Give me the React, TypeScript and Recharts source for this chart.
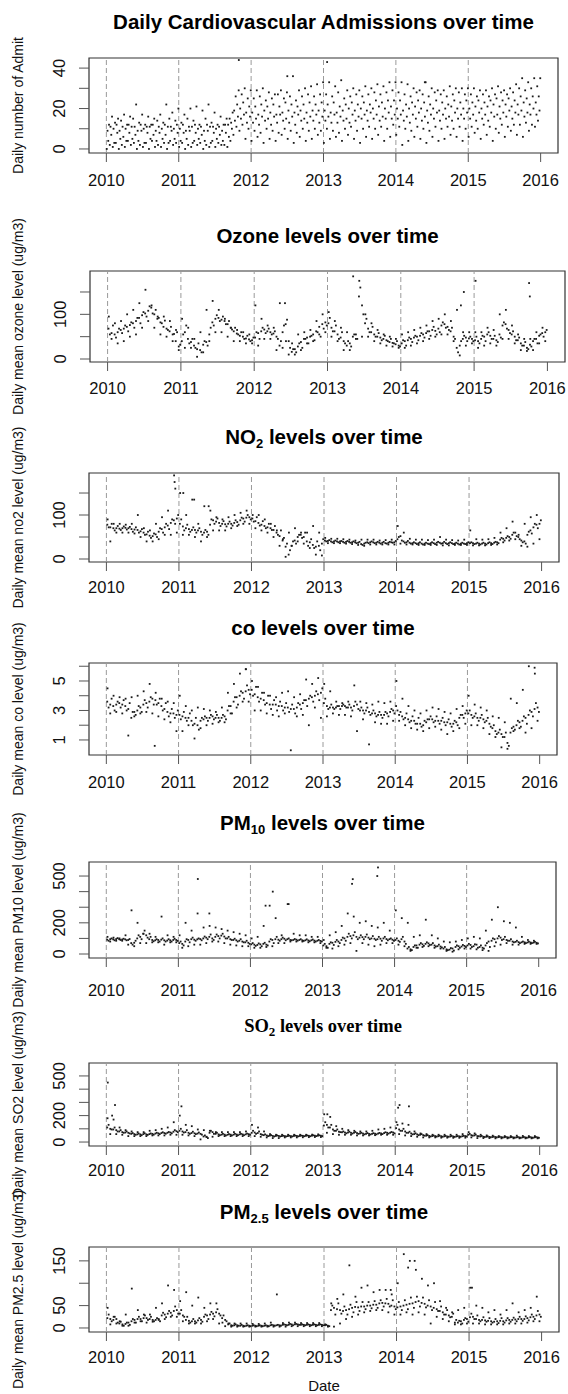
import React from "react";
import {
  ScatterChart,
  Scatter,
  XAxis,
  YAxis,
  ReferenceLine,
  ReferenceArea,
} from "recharts";

const W = 568;
const SANS = '"Liberation Sans", Arial, sans-serif';
const SERIF = '"Liberation Serif", "Times New Roman", serif';

const YEARS = [2010, 2011, 2012, 2013, 2014, 2015, 2016];
const DASH_YEARS = [2010, 2011, 2012, 2013, 2014, 2015];
const X_DOMAIN: [number, number] = [2009.76, 2016.24];

// Daily cardiovascular admissions: eight readings per month across the cloud (low -> high)
const admitL1 = [
  0, 1, 0, 1, 2, 0, 1, 0, 1, 1, 0, 2,
  1, 0, 1, 2, 0, 1, 1, 2, 1, 7, 9, 5,
  4, 6, 3, 5, 4, 7, 5, 3, 6, 4, 5, 7,
  3, 5, 6, 4, 7, 5, 3, 6, 5, 7, 4, 6,
  7, 2, 4, 6, 5, 3, 6, 4, 5, 7, 6, 4,
  6, 8, 5, 7, 4, 8, 6, 9, 7, 6, 9, 11,
];
const admitL2 = [
  2, 3, 2, 4, 3, 2, 3, 4, 2, 3, 4, 3,
  3, 2, 4, 3, 2, 4, 3, 2, 4, 11, 12, 10,
  9, 8, 10, 9, 8, 10, 9, 8, 10, 9, 10, 9,
  10, 9, 8, 10, 11, 9, 10, 11, 10, 11, 10, 12,
  11, 10, 9, 11, 10, 9, 11, 10, 11, 10, 11, 10,
  11, 10, 12, 11, 10, 12, 11, 12, 12, 13, 12, 14,
];
const admitL3 = [
  4, 3, 5, 4, 5, 4, 3, 5, 4, 5, 3, 5,
  4, 5, 3, 5, 4, 3, 5, 4, 6, 14, 15, 13,
  13, 12, 14, 12, 13, 14, 13, 12, 14, 13, 14, 13,
  14, 13, 13, 14, 13, 14, 15, 14, 15, 14, 15, 15,
  15, 14, 13, 15, 14, 13, 15, 14, 15, 14, 15, 15,
  15, 14, 15, 14, 16, 15, 16, 15, 17, 16, 17, 17,
];
const admitL4 = [
  7, 8, 6, 8, 7, 9, 8, 7, 8, 7, 9, 8,
  8, 9, 8, 7, 9, 8, 7, 8, 10, 16, 17, 16,
  15, 16, 15, 16, 17, 15, 16, 17, 15, 16, 17, 16,
  16, 17, 16, 15, 17, 16, 17, 18, 17, 16, 18, 17,
  17, 16, 17, 18, 16, 17, 18, 17, 16, 18, 17, 18,
  17, 18, 17, 18, 17, 18, 19, 18, 19, 18, 20, 19,
];
const admitL5 = [
  9, 10, 9, 10, 11, 9, 10, 11, 9, 10, 11, 10,
  10, 9, 11, 10, 9, 11, 10, 9, 12, 19, 20, 18,
  18, 17, 19, 18, 17, 18, 19, 18, 19, 18, 19, 19,
  19, 18, 18, 19, 20, 19, 20, 19, 20, 21, 20, 21,
  20, 19, 20, 21, 20, 19, 20, 19, 20, 21, 20, 20,
  20, 21, 20, 21, 22, 21, 22, 21, 22, 23, 22, 23,
];
const admitL6 = [
  11, 12, 11, 12, 11, 12, 11, 12, 11, 12, 11, 12,
  12, 11, 12, 11, 12, 11, 11, 12, 13, 22, 23, 21,
  21, 22, 21, 22, 21, 23, 22, 21, 22, 23, 22, 23,
  22, 23, 21, 22, 23, 22, 23, 22, 24, 23, 24, 24,
  24, 22, 23, 24, 23, 22, 24, 23, 22, 24, 23, 24,
  23, 24, 23, 24, 25, 24, 25, 24, 26, 25, 26, 26,
];
const admitL7 = [
  12, 13, 14, 12, 15, 13, 12, 12, 14, 13, 15, 14,
  13, 15, 14, 12, 15, 13, 12, 12, 15, 26, 27, 25,
  25, 26, 24, 25, 27, 25, 26, 24, 26, 27, 26, 27,
  27, 26, 28, 25, 26, 27, 26, 27, 28, 27, 28, 29,
  28, 27, 26, 28, 27, 26, 28, 27, 26, 27, 28, 27,
  27, 26, 27, 26, 27, 28, 27, 28, 30, 29, 30, 31,
];
const admitL8 = [
  16, 15, 17, 16, 22, 17, 16, 15, 17, 22, 18, 20,
  17, 20, 21, 19, 22, 18, 16, 15, 18, 29, 30, 29,
  29, 30, 28, 27, 29, 28, 36, 29, 30, 31, 32, 33,
  33, 31, 34, 29, 30, 29, 31, 30, 32, 31, 33, 33,
  33, 32, 30, 29, 33, 30, 29, 29, 31, 30, 30, 30,
  30, 29, 29, 30, 31, 29, 30, 32, 35, 33, 35, 35,
];
const admitSpikes = [[2011.83, 44], [2013.05, 43], [2012.5, 36], [2014.4, 33]];

// Ozone: two half-monthly readings of the band, monthly high / low, isolated peaks
const ozoneMid = [
  68, 58, 55, 60, 65, 68, 72, 76, 80, 85, 92, 98, 102, 108, 115, 100, 90, 82, 72, 68, 62, 55, 40, 28,
  40, 60, 45, 38, 30, 22, 20, 32, 38, 55, 82, 90, 92, 88, 85, 78, 70, 62, 57, 52, 50, 46, 44, 42,
  48, 58, 62, 66, 62, 60, 57, 50, 30, 60, 78, 40, 16, 22, 28, 38, 45, 48, 50, 55, 62, 72, 78, 82,
  80, 70, 62, 55, 48, 40, 30, 35, 50, 55, 140, 120, 80, 68, 60, 55, 50, 48, 45, 42, 38, 36, 33, 30,
  35, 40, 42, 45, 48, 50, 52, 55, 58, 62, 65, 63, 68, 75, 78, 72, 62, 50, 25, 30, 45, 48, 46, 45,
  42, 40, 45, 50, 55, 52, 45, 42, 55, 75, 78, 65, 55, 50, 42, 35, 30, 25, 32, 40, 45, 52, 58, 60,
];
const ozoneMid2 = [
  55, 75, 48, 68, 58, 75, 62, 82, 70, 92, 80, 105, 95, 118, 102, 110, 92, 80, 86, 65, 72, 56, 60, 32,
  55, 75, 35, 45, 25, 35, 15, 40, 30, 70, 75, 98, 85, 95, 78, 85, 66, 70, 55, 60, 45, 52, 40, 48,
  60, 45, 70, 58, 68, 55, 62, 45, 40, 75, 88, 25, 22, 15, 35, 25, 45, 35, 52, 42, 60, 50, 68, 75,
  92, 62, 75, 45, 60, 35, 40, 28, 55, 45, 160, 100, 90, 60, 72, 50, 58, 42, 52, 40, 45, 35, 40, 28,
  42, 30, 48, 38, 52, 42, 58, 48, 62, 52, 72, 55, 60, 82, 70, 65, 70, 45, 15, 40, 52, 40, 50, 40,
  50, 35, 52, 40, 60, 45, 52, 38, 48, 82, 68, 58, 62, 42, 48, 30, 38, 22, 28, 45, 35, 55, 50, 65,
];
const ozoneHi = [
  95, 80, 85, 100, 110, 125, 155, 120, 95, 95, 85, 65,
  90, 70, 45, 60, 110, 130, 110, 90, 70, 65, 60, 55,
  120, 90, 75, 70, 125, 40, 35, 55, 60, 65, 85, 100,
  105, 85, 70, 60, 185, 175, 100, 80, 65, 55, 50, 45,
  55, 60, 65, 70, 75, 85, 90, 100, 85, 110, 60, 60,
  60, 60, 70, 65, 100, 110, 75, 55, 45, 45, 60, 70,
];
const ozoneLo = [
  45, 35, 40, 50, 55, 70, 85, 70, 55, 50, 40, 20,
  25, 25, 5, 15, 40, 60, 60, 50, 40, 40, 35, 35,
  30, 45, 45, 20, 25, 10, 10, 20, 35, 40, 55, 60,
  50, 40, 20, 20, 45, 50, 50, 40, 35, 30, 28, 25,
  25, 30, 35, 40, 45, 50, 55, 55, 40, 8, 30, 35,
  25, 30, 35, 30, 45, 45, 35, 20, 18, 20, 35, 40,
];
const ozoneSpikes = [[2012.42, 125], [2014.86, 150], [2015.02, 175], [2015.75, 170], [2014.82, 120], [2015.76, 140]];

// NO2
const no2Mid = [
  78, 72, 70, 70, 69, 70, 71, 70, 68, 67, 66, 63, 60, 56, 53, 52, 56, 62, 68, 72, 76, 82, 88, 92,
  80, 74, 70, 68, 66, 66, 65, 62, 60, 62, 78, 88, 85, 82, 80, 79, 80, 80, 82, 84, 88, 92, 94, 95,
  92, 86, 82, 78, 75, 72, 70, 66, 60, 52, 42, 28, 10, 30, 42, 50, 55, 50, 40, 38, 32, 28, 30, 35,
  42, 41, 40, 40, 40, 40, 39, 39, 39, 38, 38, 37, 34, 35, 38, 38, 38, 37, 37, 37, 36, 37, 38, 38,
  45, 52, 40, 38, 37, 36, 36, 36, 35, 35, 35, 36, 36, 37, 37, 36, 36, 36, 36, 35, 35, 35, 35, 36,
  36, 36, 35, 35, 35, 35, 36, 36, 37, 38, 44, 46, 48, 50, 55, 60, 50, 42, 40, 55, 65, 72, 78, 80,
];
const no2Mid2 = [
  72, 80, 65, 75, 66, 74, 67, 73, 62, 72, 60, 68, 55, 62, 48, 58, 50, 70, 60, 80, 68, 90, 80, 100,
  90, 65, 78, 62, 72, 60, 70, 55, 66, 55, 90, 80, 92, 75, 86, 74, 85, 76, 88, 78, 94, 85, 100, 90,
  85, 95, 76, 86, 70, 80, 66, 75, 55, 65, 48, 35, 20, 40, 35, 55, 48, 60, 30, 45, 25, 40, 20, 45,
  40, 43, 38, 42, 38, 41, 37, 41, 37, 40, 36, 39, 32, 37, 36, 40, 36, 39, 35, 39, 35, 39, 37, 41,
  50, 42, 37, 41, 35, 38, 34, 38, 33, 37, 34, 38, 34, 39, 35, 39, 34, 38, 34, 37, 33, 37, 34, 38,
  38, 34, 37, 33, 37, 33, 38, 34, 39, 36, 48, 42, 52, 46, 60, 52, 45, 38, 35, 62, 58, 80, 70, 88,
];
const no2Hi = [
  90, 80, 80, 78, 80, 100, 70, 65, 80, 95, 110, 190,
  150, 100, 135, 80, 120, 110, 95, 90, 95, 100, 105, 110,
  100, 100, 90, 80, 65, 45, 60, 70, 60, 60, 75, 60,
  48, 46, 46, 45, 44, 42, 44, 44, 44, 42, 43, 44,
  75, 60, 46, 44, 44, 43, 44, 50, 44, 43, 42, 44,
  65, 45, 44, 45, 48, 60, 70, 85, 55, 80, 95, 100,
];
const no2Lo = [
  40, 60, 60, 60, 58, 50, 40, 40, 45, 55, 55, 60,
  55, 55, 50, 40, 50, 65, 65, 65, 70, 75, 80, 80,
  70, 65, 60, 50, 30, 5, 30, 40, 35, 25, 10, 8,
  36, 36, 36, 35, 34, 32, 30, 33, 33, 33, 33, 33,
  35, 33, 33, 32, 32, 32, 32, 31, 31, 32, 32, 32,
  31, 31, 31, 32, 33, 38, 42, 45, 30, 28, 35, 45,
];
const no2Spikes = [[2010.94, 175], [2010.95, 160], [2011.06, 150], [2011.21, 135], [2011.41, 120]];

// CO
const coMid = [
  3.6, 3.4, 3.3, 3.4, 3.5, 3.4, 3.3, 3.1, 2.5, 2.9, 3.0, 3.2, 3.4, 3.5, 3.6, 3.8, 3.7, 3.5, 3.3, 3.1, 2.9, 2.8, 2.8, 2.7,
  2.7, 2.6, 2.5, 2.5, 2.3, 2.1, 2.0, 2.3, 2.4, 2.5, 2.5, 2.6, 2.5, 2.5, 2.5, 2.6, 3.0, 3.3, 3.6, 3.9, 4.0, 4.2, 4.3, 4.4,
  4.4, 4.1, 3.9, 3.8, 3.7, 3.5, 3.4, 3.4, 3.4, 3.3, 3.3, 3.2, 3.2, 3.1, 3.1, 3.2, 3.4, 3.5, 3.7, 3.8, 3.9, 4.0, 4.1, 4.2,
  3.5, 3.3, 3.2, 3.2, 3.2, 3.3, 3.3, 3.3, 3.2, 3.2, 3.3, 3.4, 3.0, 3.0, 3.0, 2.9, 2.8, 2.8, 2.7, 2.7, 2.7, 2.8, 2.9, 3.0,
  3.3, 2.7, 2.6, 2.5, 2.4, 2.3, 2.3, 2.1, 2.1, 2.0, 2.2, 2.4, 2.4, 2.3, 2.3, 2.3, 2.2, 2.2, 2.1, 2.1, 2.2, 2.5, 2.7, 2.8,
  2.8, 2.7, 2.6, 2.5, 2.5, 2.4, 2.3, 2.1, 1.8, 1.6, 1.5, 1.4, 1.2, 0.8, 1.5, 1.9, 2.0, 2.2, 2.3, 2.5, 2.7, 2.9, 3.1, 3.2,
];
const coMid2 = [
  3.2, 3.8, 3.0, 3.6, 3.2, 3.7, 3.0, 3.5, 2.9, 2.7, 3.3, 2.9, 3.7, 3.2, 3.9, 3.4, 3.4, 3.8, 3.0, 3.5, 2.6, 3.1, 2.5, 3.0,
  2.4, 2.9, 2.3, 2.8, 2.0, 2.5, 1.7, 2.5, 2.6, 2.3, 2.7, 2.4, 2.7, 2.3, 2.7, 2.4, 3.3, 2.8, 3.9, 3.4, 4.3, 3.8, 4.7, 4.1,
  4.0, 4.6, 3.6, 4.2, 3.4, 4.0, 3.1, 3.7, 3.0, 3.6, 3.0, 3.5, 2.9, 3.4, 2.8, 3.5, 3.1, 3.7, 3.3, 4.0, 3.6, 4.3, 3.7, 4.5,
  3.8, 3.1, 3.4, 3.1, 3.3, 3.1, 3.4, 3.2, 3.4, 3.0, 3.6, 3.1, 3.2, 2.8, 3.2, 2.7, 3.0, 2.6, 2.9, 2.5, 2.9, 2.6, 3.1, 2.8,
  3.0, 2.9, 2.4, 2.8, 2.2, 2.6, 2.1, 2.5, 1.9, 2.3, 2.4, 2.6, 2.2, 2.6, 2.1, 2.5, 2.0, 2.4, 1.9, 2.3, 2.0, 2.7, 2.5, 3.0,
  3.0, 2.5, 2.8, 2.3, 2.7, 2.2, 2.5, 1.9, 2.0, 1.4, 1.7, 1.2, 1.5, 0.6, 1.8, 1.7, 2.3, 1.9, 2.6, 2.1, 3.0, 2.6, 3.5, 2.9,
];
const coHi = [
  4.5, 4.0, 3.9, 3.8, 3.9, 4.0, 4.3, 4.8, 4.2, 3.8, 3.6, 3.5,
  4.0, 3.3, 3.0, 3.2, 3.1, 3.0, 2.9, 3.2, 4.2, 4.8, 5.5, 5.8,
  5.0, 4.6, 4.2, 4.0, 3.9, 4.2, 4.3, 3.9, 4.1, 5.1, 4.8, 5.2,
  4.8, 4.3, 3.6, 3.5, 3.6, 4.7, 3.6, 3.5, 3.4, 3.6, 3.5, 3.6,
  5.0, 3.8, 3.3, 3.0, 2.8, 3.0, 3.2, 3.1, 2.9, 2.8, 3.1, 3.3,
  4.0, 3.4, 3.2, 3.0, 2.6, 2.5, 2.2, 3.8, 3.5, 4.4, 6.0, 5.5,
];
const coLo = [
  2.8, 2.9, 2.8, 1.3, 2.6, 2.8, 2.9, 2.8, 2.6, 2.4, 2.2, 1.6,
  1.6, 2.0, 1.1, 1.8, 2.0, 2.1, 2.2, 2.2, 2.8, 3.2, 3.6, 3.6,
  3.0, 3.0, 2.8, 2.7, 2.6, 2.8, 0.3, 2.6, 2.7, 2.0, 3.2, 2.5,
  2.6, 2.8, 2.7, 2.7, 2.6, 1.6, 2.4, 0.7, 2.2, 2.1, 2.1, 2.3,
  2.3, 2.0, 1.8, 1.7, 1.6, 1.8, 1.9, 1.7, 1.4, 1.6, 1.8, 2.1,
  2.0, 2.0, 1.8, 1.4, 1.2, 0.5, 0.4, 1.6, 1.8, 1.5, 1.8, 2.3,
];
const coSpikes = [[2010.67, 0.6], [2011.93, 5.8], [2015.93, 5.9]];

// PM10
const pm10Mid = [
  92, 95, 94, 96, 95, 93, 94, 90, 70, 72, 100, 110, 130, 120, 95, 90, 88, 90, 92, 88, 86, 88, 90, 90,
  70, 65, 80, 90, 95, 92, 94, 96, 100, 105, 110, 100, 110, 115, 118, 112, 100, 95, 90, 88, 85, 80, 75, 72,
  62, 60, 58, 62, 65, 60, 80, 90, 95, 92, 95, 98, 95, 90, 90, 92, 90, 88, 88, 87, 88, 86, 85, 84,
  55, 50, 65, 72, 78, 80, 90, 100, 110, 115, 120, 110, 105, 108, 110, 105, 100, 98, 95, 98, 100, 96, 95, 92,
  90, 85, 95, 80, 35, 30, 45, 55, 60, 62, 65, 68, 60, 55, 50, 48, 35, 30, 28, 35, 45, 50, 48, 52,
  55, 58, 50, 60, 45, 40, 55, 80, 85, 95, 100, 105, 95, 90, 85, 80, 78, 76, 75, 75, 74, 74, 73, 72,
];
const pm10Mid2 = [
  85, 100, 88, 102, 90, 98, 88, 96, 60, 85, 120, 95, 150, 105, 110, 82, 95, 80, 100, 80, 95, 80, 98, 84,
  80, 55, 95, 75, 105, 85, 100, 88, 112, 95, 125, 90, 125, 100, 130, 100, 110, 90, 98, 80, 95, 75, 85, 65,
  70, 52, 68, 50, 72, 55, 95, 70, 110, 85, 105, 88, 100, 88, 96, 86, 95, 84, 94, 82, 93, 80, 90, 80,
  65, 40, 75, 58, 90, 70, 105, 85, 130, 100, 140, 95, 120, 95, 125, 95, 115, 90, 110, 85, 110, 88, 100, 85,
  100, 78, 110, 65, 45, 25, 55, 40, 70, 52, 75, 58, 70, 48, 60, 42, 45, 25, 38, 22, 55, 40, 58, 45,
  65, 45, 62, 40, 55, 35, 70, 45, 100, 75, 115, 90, 110, 85, 95, 75, 85, 70, 80, 70, 79, 70, 78, 68,
];
const pm10Hi = [
  110, 105, 100, 120, 280, 200, 130, 130, 110, 240, 120, 110,
  120, 200, 150, 260, 170, 180, 170, 160, 150, 140, 130, 120,
  100, 110, 180, 310, 230, 120, 320, 130, 120, 120, 110, 110,
  90, 120, 140, 180, 260, 240, 200, 210, 180, 170, 200, 150,
  280, 230, 200, 110, 120, 220, 120, 100, 80, 75, 80, 90,
  100, 110, 100, 150, 220, 300, 210, 200, 170, 110, 90, 85,
];
const pm10Lo = [
  80, 85, 85, 60, 50, 70, 70, 75, 75, 60, 75, 75,
  40, 50, 60, 60, 70, 80, 80, 70, 60, 55, 50, 50,
  40, 40, 45, 50, 70, 70, 80, 80, 80, 75, 75, 70,
  40, 35, 50, 60, 70, 20, 70, 60, 50, 60, 70, 70,
  60, 50, 20, 40, 45, 50, 40, 35, 20, 15, 30, 35,
  35, 30, 25, 20, 50, 60, 70, 60, 60, 65, 65, 65,
];
const pm10Spikes = [[2011.27, 481], [2012.31, 400], [2012.53, 320], [2013.41, 450], [2013.42, 480], [2013.76, 500], [2013.77, 555], [2011.43, 260], [2012.21, 310]];

// SO2
const so2Mid = [
  110, 100, 95, 90, 80, 75, 72, 70, 62, 60, 58, 58, 60, 58, 60, 62, 64, 66, 68, 68, 70, 72, 78, 82,
  85, 80, 75, 70, 68, 66, 64, 62, 42, 38, 70, 75, 62, 58, 56, 56, 55, 56, 56, 57, 58, 58, 58, 60,
  70, 72, 68, 60, 52, 50, 48, 46, 46, 46, 45, 45, 45, 45, 46, 46, 46, 47, 47, 47, 48, 48, 48, 48,
  125, 130, 110, 95, 85, 78, 74, 72, 72, 70, 70, 68, 65, 64, 62, 62, 62, 63, 64, 65, 68, 70, 70, 72,
  105, 95, 85, 80, 70, 65, 60, 58, 55, 52, 48, 46, 45, 45, 44, 44, 43, 42, 42, 42, 42, 43, 44, 45,
  55, 52, 50, 45, 42, 40, 40, 39, 38, 38, 37, 37, 36, 36, 36, 35, 35, 35, 35, 35, 35, 35, 35, 35,
];
const so2Mid2 = [
  130, 95, 110, 80, 90, 70, 80, 65, 68, 55, 64, 52, 66, 54, 65, 56, 70, 60, 74, 63, 76, 66, 90, 75,
  100, 72, 90, 62, 78, 60, 72, 56, 50, 30, 85, 62, 70, 52, 62, 50, 60, 50, 62, 52, 62, 52, 64, 55,
  85, 62, 80, 55, 58, 45, 52, 42, 50, 42, 48, 42, 48, 42, 49, 43, 49, 44, 50, 44, 51, 45, 51, 45,
  150, 110, 130, 85, 95, 75, 80, 66, 78, 64, 76, 62, 70, 58, 68, 57, 67, 58, 69, 60, 74, 64, 76, 66,
  130, 85, 100, 70, 78, 58, 66, 52, 60, 48, 52, 42, 49, 41, 48, 40, 46, 40, 46, 39, 45, 40, 47, 42,
  62, 48, 56, 44, 46, 38, 43, 36, 41, 35, 40, 34, 39, 33, 38, 33, 38, 32, 38, 32, 38, 32, 38, 32,
];
const so2Hi = [
  180, 170, 110, 90, 80, 75, 75, 85, 90, 100, 110, 150,
  200, 130, 120, 95, 90, 85, 75, 75, 75, 75, 75, 80,
  130, 110, 80, 60, 55, 55, 55, 55, 55, 55, 56, 58,
  210, 190, 120, 100, 90, 85, 80, 80, 85, 95, 100, 110,
  150, 140, 130, 80, 65, 60, 55, 55, 55, 55, 55, 60,
  75, 65, 55, 50, 48, 45, 45, 45, 48, 46, 45, 45,
];
const so2Lo = [
  60, 60, 55, 45, 45, 45, 45, 50, 50, 50, 55, 55,
  55, 50, 45, 20, 40, 40, 45, 45, 45, 45, 45, 45,
  45, 40, 35, 30, 30, 35, 35, 35, 36, 37, 38, 38,
  70, 60, 55, 55, 55, 50, 50, 50, 52, 55, 55, 55,
  60, 50, 45, 40, 35, 35, 35, 33, 33, 32, 32, 33,
  35, 30, 30, 30, 28, 28, 28, 28, 28, 28, 28, 28,
];
const so2Spikes = [[2010.02, 450], [2010.12, 280], [2010.08, 200], [2011.04, 270], [2013.06, 210], [2014.04, 260], [2014.06, 280], [2014.19, 270]];

// PM2.5
const pm25Mid = [
  22, 20, 18, 20, 10, 8, 9, 12, 15, 18, 20, 20, 22, 22, 20, 18, 18, 20, 28, 30, 32, 34, 38, 40,
  32, 28, 18, 16, 15, 15, 17, 18, 25, 28, 30, 32, 35, 32, 22, 18, 8, 6, 6, 6, 5, 5, 5, 5,
  5, 5, 5, 5, 5, 5, 6, 6, 6, 6, 7, 7, 7, 8, 8, 8, 7, 7, 7, 7, 7, 7, 7, 7,
  6, 5, 40, 45, 42, 40, 38, 40, 42, 45, 47, 46, 48, 48, 50, 50, 52, 52, 55, 56, 55, 54, 50, 48,
  46, 48, 50, 52, 54, 55, 58, 60, 56, 54, 50, 48, 45, 42, 38, 35, 30, 28, 25, 12, 12, 15, 18, 20,
  24, 25, 20, 18, 18, 17, 16, 15, 14, 15, 16, 15, 17, 18, 18, 19, 20, 20, 20, 22, 24, 25, 28, 30,
];
const pm25Mid2 = [
  30, 15, 25, 12, 14, 5, 12, 7, 20, 12, 25, 15, 28, 18, 25, 15, 22, 15, 34, 24, 38, 28, 48, 32,
  40, 25, 25, 12, 20, 12, 22, 14, 30, 20, 36, 26, 42, 28, 28, 15, 10, 5, 8, 5, 7, 4, 6, 4,
  6, 4, 6, 4, 6, 4, 7, 5, 7, 5, 8, 6, 9, 6, 9, 7, 8, 6, 8, 6, 8, 6, 8, 6,
  7, 4, 50, 30, 55, 32, 48, 30, 52, 35, 58, 38, 58, 42, 58, 44, 60, 45, 62, 48, 65, 48, 62, 42,
  58, 40, 62, 42, 68, 45, 70, 48, 68, 46, 62, 40, 58, 38, 48, 30, 40, 24, 32, 18, 16, 10, 22, 14,
  32, 20, 28, 15, 24, 14, 22, 12, 20, 11, 22, 12, 22, 14, 23, 15, 25, 16, 26, 17, 30, 20, 38, 25,
];
const pm25Hi = [
  45, 25, 15, 30, 88, 40, 30, 30, 45, 55, 95, 85,
  60, 80, 50, 68, 45, 55, 55, 12, 10, 10, 10, 10,
  9, 9, 10, 12, 75, 11, 12, 12, 11, 11, 11, 11,
  8, 55, 65, 75, 140, 70, 90, 95, 80, 85, 85, 75,
  100, 165, 150, 130, 110, 95, 100, 60, 45, 35, 40, 45,
  90, 50, 45, 35, 40, 30, 40, 55, 35, 40, 45, 70,
];
const pm25Lo = [
  8, 10, 5, 5, 12, 15, 12, 14, 18, 20, 25, 25,
  15, 10, 10, 10, 15, 20, 10, 4, 3, 3, 3, 3,
  3, 3, 3, 3, 3, 3, 4, 4, 4, 4, 4, 4,
  3, 3, 10, 20, 25, 30, 35, 38, 40, 40, 35, 30,
  30, 35, 30, 35, 30, 10, 25, 20, 15, 8, 8, 10,
  10, 10, 8, 8, 8, 8, 10, 10, 10, 12, 15, 15,
];
const pm25Spikes = [[2014.16, 135], [2014.25, 150], [2013.92, 85], [2015.04, 90]];

type Pt = { x: number; y: number };

const halfMonthX = (i: number, f: number) => 2010 + (i + f) / 24;
const monthX = (i: number, f: number) => 2010 + (i + f) / 12;

function pollutantPoints(mid: number[], mid2: number[], hi: number[], lo: number[], spikes: number[][]): Pt[] {
  return [
    ...mid.map((y, i) => ({ x: halfMonthX(i, 0.3), y })),
    ...mid2.map((y, i) => ({ x: halfMonthX(i, 0.75), y })),
    ...hi.map((y, i) => ({ x: monthX(i, 0.2), y })),
    ...lo.map((y, i) => ({ x: monthX(i, 0.65), y })),
    ...spikes.map(([x, y]) => ({ x, y })),
  ];
}

function admitPoints(): Pt[] {
  const levels = [admitL1, admitL2, admitL3, admitL4, admitL5, admitL6, admitL7, admitL8];
  const order = [0, 4, 2, 6, 1, 5, 3, 7];
  const pts: Pt[] = [];
  levels.forEach((arr, k) => {
    arr.forEach((y, i) => pts.push({ x: monthX(i, (order[k] + 0.5) / 8), y }));
  });
  admitSpikes.forEach(([x, y]) => pts.push({ x, y }));
  return pts;
}

const Dot = (props: any) => {
  const { cx, cy } = props;
  if (cx == null || cy == null) return null;
  return <rect x={cx - 0.9} y={cy - 0.9} width={1.8} height={1.8} fill="#1a1a1a" />;
};

type Box = { l: number; t: number; r: number; b: number };

interface PanelProps {
  top: number;
  height: number;
  box: Box;
  yDomain: [number, number];
  yTicks: number[];
  yLabels: number[];
  title: React.ReactNode;
  serif?: boolean;
  titleY: number;
  ylab: string;
  points: Pt[];
  labelGap: number;
  xTitle?: string;
}

const AXIS_BAND = 30;

function Panel(p: PanelProps) {
  const margin = {
    top: p.box.t - p.top,
    bottom: p.top + p.height - p.box.b - AXIS_BAND,
    left: p.box.l - AXIS_BAND,
    right: W - p.box.r,
  };
  const midX = (p.box.l + p.box.r) / 2;
  const midY = (p.box.t + p.box.b) / 2 - p.top;

  const xTick = (t: any) => (
    <text x={t.x} y={t.y} dy="0.36em" textAnchor="middle" fontSize={16.5} fontFamily={SANS} fill="#111">
      {t.payload.value}
    </text>
  );

  return (
    <div style={{ position: "absolute", left: 0, top: p.top, width: W, height: p.height }}>
      <ScatterChart width={W} height={p.height} margin={margin}>
        <XAxis
          type="number"
          dataKey="x"
          domain={X_DOMAIN}
          ticks={YEARS}
          interval={0}
          allowDataOverflow
          height={AXIS_BAND}
          axisLine={false}
          tickLine={{ stroke: "#555" }}
          tickSize={9}
          tickMargin={p.labelGap - 9}
          tick={xTick}
        />
        {/* R draws y tick labels parallel to the axis */}
        <YAxis
          type="number"
          dataKey="y"
          domain={p.yDomain}
          ticks={p.yTicks}
          interval={0}
          allowDataOverflow
          width={AXIS_BAND}
          axisLine={false}
          tickLine={{ stroke: "#555" }}
          tickSize={10}
          tickMargin={20}
          angle={-90}
          tick={{ fontSize: 16.5, fontFamily: SANS, fill: "#111", textAnchor: "middle", verticalAnchor: "middle" }}
          tickFormatter={(v: number) => (p.yLabels.includes(v) ? String(v) : "")}
        />
        {DASH_YEARS.map((yr) => (
          <ReferenceLine key={yr} x={yr} stroke="#9a9a9a" strokeDasharray="5 3" />
        ))}
        <Scatter data={p.points} isAnimationActive={false} shape={Dot} />
        <ReferenceArea
          x1={X_DOMAIN[0]}
          x2={X_DOMAIN[1]}
          y1={p.yDomain[0]}
          y2={p.yDomain[1]}
          fill="none"
          fillOpacity={0}
          stroke="#333"
          strokeWidth={1.2}
          ifOverflow="visible"
        />
      </ScatterChart>
      <svg
        width={W}
        height={p.height}
        style={{ position: "absolute", left: 0, top: 0, overflow: "visible", pointerEvents: "none" }}
      >
        <text
          x={midX}
          y={p.titleY - p.top}
          dy="0.36em"
          textAnchor="middle"
          fontSize={p.serif ? 18.5 : 20.5}
          fontWeight="bold"
          fontFamily={p.serif ? SERIF : SANS}
          fill="#000"
        >
          {p.title}
        </text>
        <text
          x={18}
          y={midY}
          dy="0.36em"
          textAnchor="middle"
          fontSize={14}
          fontFamily={SANS}
          fill="#111"
          transform={`rotate(-90, 18, ${midY})`}
        >
          {p.ylab}
        </text>
        {p.xTitle ? (
          <text x={midX} y={p.height - 8} dy="0.36em" textAnchor="middle" fontSize={15} fontFamily={SANS} fill="#111">
            {p.xTitle}
          </text>
        ) : null}
      </svg>
    </div>
  );
}

export default function App() {
  return (
    <div
      style={{
        position: "absolute",
        left: 0,
        top: 0,
        width: W,
        height: 1394,
        background: "#fff",
        overflow: "hidden",
      }}
    >
      <Panel
        top={0}
        height={200}
        box={{ l: 89, t: 58, r: 558, b: 153 }}
        yDomain={[-2, 45]}
        yTicks={[0, 10, 20, 30, 40]}
        yLabels={[0, 20, 40]}
        title="Daily Cardiovascular Admissions over time"
        titleY={22}
        ylab="Daily number of Admit"
        points={admitPoints()}
        labelGap={27}
      />
      <Panel
        top={200}
        height={200}
        box={{ l: 90, t: 271, r: 565, b: 362 }}
        yDomain={[-6.7, 197]}
        yTicks={[0, 50, 100, 150]}
        yLabels={[0, 100]}
        title="Ozone levels over time"
        titleY={236}
        ylab="Daily mean ozone level (ug/m3)"
        points={pollutantPoints(ozoneMid, ozoneMid2, ozoneHi, ozoneLo, ozoneSpikes)}
        labelGap={26}
      />
      <Panel
        top={400}
        height={200}
        box={{ l: 89, t: 473, r: 559, b: 562 }}
        yDomain={[-6.8, 195.5]}
        yTicks={[0, 50, 100, 150]}
        yLabels={[0, 100]}
        title={
          <>
            NO<tspan dy={4} fontSize={13}>2</tspan>
            <tspan dy={-4}> levels over time</tspan>
          </>
        }
        titleY={437}
        ylab="Daily mean no2 level (ug/m3)"
        points={pollutantPoints(no2Mid, no2Mid2, no2Hi, no2Lo, no2Spikes)}
        labelGap={25}
      />
      <Panel
        top={600}
        height={200}
        box={{ l: 89, t: 663, r: 557, b: 755 }}
        yDomain={[-0.02, 6.22]}
        yTicks={[1, 2, 3, 4, 5, 6]}
        yLabels={[1, 3, 5]}
        title="co levels over time"
        titleY={628}
        ylab="Daily mean co level (ug/m3)"
        points={pollutantPoints(coMid, coMid2, coHi, coLo, coSpikes)}
        labelGap={27}
      />
      <Panel
        top={800}
        height={200}
        box={{ l: 89, t: 862, r: 556, b: 958 }}
        yDomain={[-25.6, 590]}
        yTicks={[0, 100, 200, 300, 400, 500]}
        yLabels={[0, 200, 500]}
        title={
          <>
            PM<tspan dy={4} fontSize={13}>10</tspan>
            <tspan dy={-4}> levels over time</tspan>
          </>
        }
        titleY={823}
        ylab="Daily mean PM10 level (ug/m3)"
        points={pollutantPoints(pm10Mid, pm10Mid2, pm10Hi, pm10Lo, pm10Spikes)}
        labelGap={32}
      />
      <Panel
        top={1000}
        height={190}
        box={{ l: 89, t: 1063, r: 557, b: 1146 }}
        yDomain={[-30, 598]}
        yTicks={[0, 100, 200, 300, 400, 500]}
        yLabels={[0, 200, 500]}
        serif
        title={
          <>
            SO<tspan dy={4} fontSize={13}>2</tspan>
            <tspan dy={-4}> levels over time</tspan>
          </>
        }
        titleY={1025}
        ylab="Daily mean SO2 level (ug/m3)"
        points={pollutantPoints(so2Mid, so2Mid2, so2Hi, so2Lo, so2Spikes)}
        labelGap={24}
      />
      <Panel
        top={1190}
        height={204}
        box={{ l: 89, t: 1247, r: 559, b: 1332 }}
        yDomain={[-9, 181]}
        yTicks={[0, 50, 100, 150]}
        yLabels={[0, 50, 150]}
        title={
          <>
            PM<tspan dy={4} fontSize={13}>2.5</tspan>
            <tspan dy={-4}> levels over time</tspan>
          </>
        }
        titleY={1212}
        ylab="Daily mean PM2.5 level (ug/m3)"
        points={pollutantPoints(pm25Mid, pm25Mid2, pm25Hi, pm25Lo, pm25Spikes)}
        labelGap={25}
        xTitle="Date"
      />
    </div>
  );
}
